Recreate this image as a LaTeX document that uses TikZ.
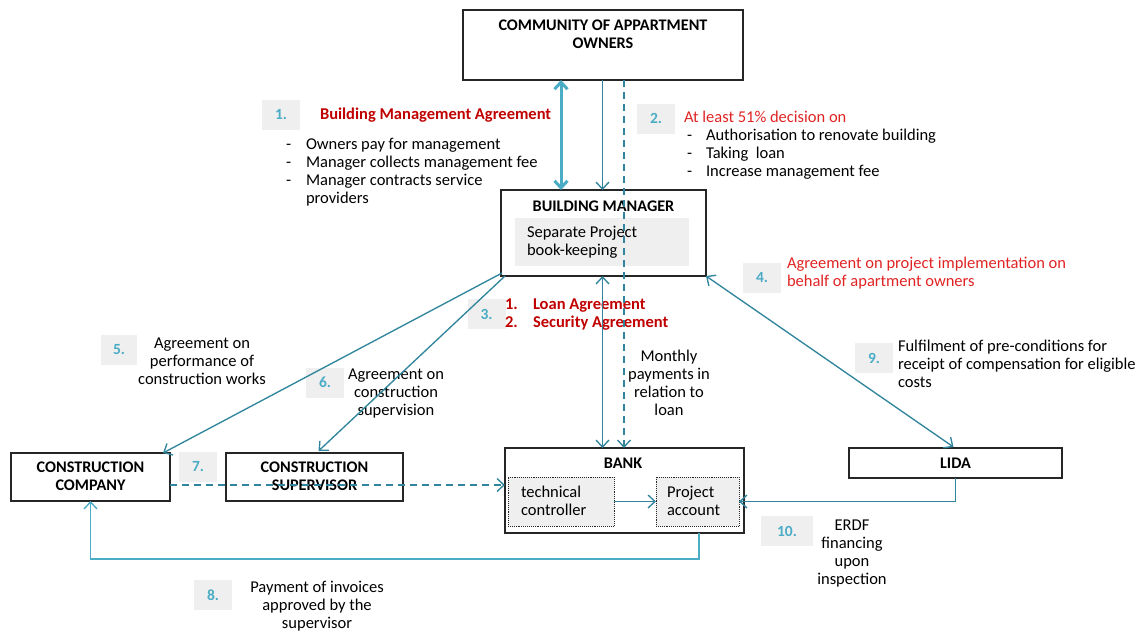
\documentclass[tikz,border=0pt]{standalone}
\usepackage{fontspec}
\setmainfont{Carlito}
\usetikzlibrary{arrows.meta,calc}
\definecolor{teal1}{HTML}{31859C}
\definecolor{lblue}{HTML}{4BACC6}
\definecolor{dred}{HTML}{C00000}
\definecolor{bred}{HTML}{E02424}
\definecolor{lgrey}{HTML}{EFEFEF}
\begin{document}
\begin{tikzpicture}[x=1pt,y=-1pt,
  every node/.style={inner sep=0pt, outer sep=0pt},
  font=\fontsize{16.5}{18}\selectfont,
  bold/.style={font=\fontsize{16.5}{18}\selectfont\bfseries},
  capb/.style={font=\fontsize{16.2}{18}\selectfont\bfseries},
  box/.style={draw=black!85, line width=1.2pt, fill=white},
  inbox/.style={draw=black!85, densely dotted, line width=0.9pt, fill=lgrey},
  num/.style={fill=lgrey, text=lblue, font=\fontsize{15.5}{18}\selectfont\bfseries, minimum width=38, minimum height=30},
  txl/.style={anchor=north west, align=left},
  txc/.style={anchor=north, align=center},
  conn/.style={draw=teal1, line width=1.35pt},
  dashconn/.style={draw=teal1, line width=1.35pt, dash pattern=on 7pt off 5pt},
  >={Straight Barb[length=7pt,width=13pt]},
]
\useasboundingbox (0,0) rectangle (1144,633);

% ---------- boxes ----------
\node[box, minimum width=280, minimum height=70] (com) at (603,45) {};
\node[txc, capb] (comT) at (603,17.5) {\strut COMMUNITY OF APPARTMENT\\OWNERS};

\node[box, minimum width=205, minimum height=86] (bm) at (603.5,233) {};
\node[txc, capb] (bmT) at (603.5,198.5) {\strut BUILDING MANAGER};
\node[fill=lgrey, minimum width=174, minimum height=48] (bmIn) at (602,242) {};
\node[txl] (bmInT) at (527,224.5) {\strut Separate Project\\book-keeping};

\node[box, minimum width=239, minimum height=85] (bank) at (624.5,490.5) {};
\node[txc, capb] (bankT) at (623,455.6) {\strut BANK};
\node[inbox, minimum width=106, minimum height=49] (tc) at (561,501.5) {};
\node[txl] (tcT) at (521,484.5) {\strut technical\\controller};
\node[inbox, minimum width=83, minimum height=49] (pa) at (697.5,501.5) {};
\node[txl] (paT) at (667,484.5) {\strut Project\\account};

\node[box, minimum width=213, minimum height=30] (lida) at (955.5,463) {};
\node[capb] (lidaT) at (955.5,463) {LIDA};

\node[box, minimum width=159, minimum height=48] (cc) at (90.5,477) {};
\node[txc, capb] (ccT) at (90.5,459.6) {\strut CONSTRUCTION\\COMPANY};

\node[box, minimum width=177, minimum height=48] (cs) at (314.5,477) {};
\node[txc, capb] (csT) at (314.5,459.6) {\strut CONSTRUCTION\\SUPERVISOR};

% ---------- number labels ----------
\node[num] (n1) at (281,114.5) {1.};
\node[num] (n2) at (656,118.5) {2.};
\node[num] (n3) at (486.5,314) {3.};
\node[num] (n4) at (762,278) {4.};
\node[num, minimum width=36] (n5) at (119,349.5) {5.};
\node[num] (n6) at (325,382.5) {6.};
\node[num] (n7) at (198,467) {7.};
\node[num] (n8) at (213,595) {8.};
\node[num] (n9) at (874,358) {9.};
\node[num, minimum width=52] (n10) at (787,531) {10.};

% ---------- texts ----------
\node[txl, bold, text=dred] (t1h) at (320,106.5) {\strut Building Management Agreement};
\node[txl] (t1d) at (286,136.5) {\strut -\\-\\-};
\node[txl] (t1) at (306,136.5) {\strut Owners pay for management\\Manager collects management fee\\Manager contracts service\\providers};

\node[txl, text=bred] (t2h) at (684,109.5) {\strut At least 51\% decision on};
\node[txl] (t2d) at (687,127.5) {\strut -\\-\\-};
\node[txl] (t2) at (706,127.5) {\strut Authorisation to renovate building\\Taking~ loan\\Increase management fee};

\node[txl, bold, text=dred] (t3d) at (505,297) {\strut 1.\\2.};
\node[txl, bold, text=dred] (t3) at (533,297) {\strut Loan Agreement\\Security Agreement};

\node[txl, text=bred] (t4) at (787,255.5) {\strut Agreement on project implementation on\\behalf of apartment owners};

\node[txc] (t5) at (202,335.5) {\strut Agreement on\\performance of\\construction works};
\node[txc] (t6) at (396,366.5) {\strut Agreement on\\construction\\supervision};
\node[txc] (tm) at (669,348.5) {\strut Monthly\\payments in\\relation to\\loan};
\node[txl] (t9) at (898,338.5) {\strut Fulfilment of pre-conditions for\\receipt of compensation for eligible\\costs};
\node[txc] (t10) at (852,517.5) {\strut ERDF\\financing\\upon\\inspection};
\node[txc] (t8) at (317,579.5) {\strut Payment of invoices\\approved by the\\supervisor};

% ---------- connectors ----------
\coordinate (xa) at (561,0);
\coordinate (xb) at (602.5,0);
\coordinate (xc) at (624,0);
\coordinate (bx) at (699,0);
\coordinate (yb) at (0,559);

\draw[conn, draw=lblue, line width=3pt, <->] (com.south -| xa) -- (bm.north -| xa);
\draw[conn, ->] (com.south -| xb) -- (bm.north -| xb);
\draw[dashconn, ->] (com.south -| xc) -- (bank.north -| xc);
\draw[conn, <->] (bm.south -| xb) -- (bank.north -| xb);

\draw[conn, ->] ($(bm.south west)+(1,-3)$) -- ($(cc.north east)+(-7,0)$);
\draw[conn, ->] ($(bm.south west)+(4,0)$) -- ($(cs.north)+(4,-2)$);
\draw[conn, <->] (bm.south east) -- ($(lida.north)+(-2,-1)$);

\coordinate (d7) at ($(cc.east)+(0,8)$);
\draw[dashconn, ->] (d7) -- (d7 -| bank.west);

\draw[conn, ->] (tc.east) -- (pa.west);
\draw[conn, ->] (lida.south) -- (lida.south |- pa.east) -- (pa.east);
\draw[conn, draw=lblue, ->] (bank.south -| bx) -- (bx |- yb) -| (cc.south);
\end{tikzpicture}
\end{document}
